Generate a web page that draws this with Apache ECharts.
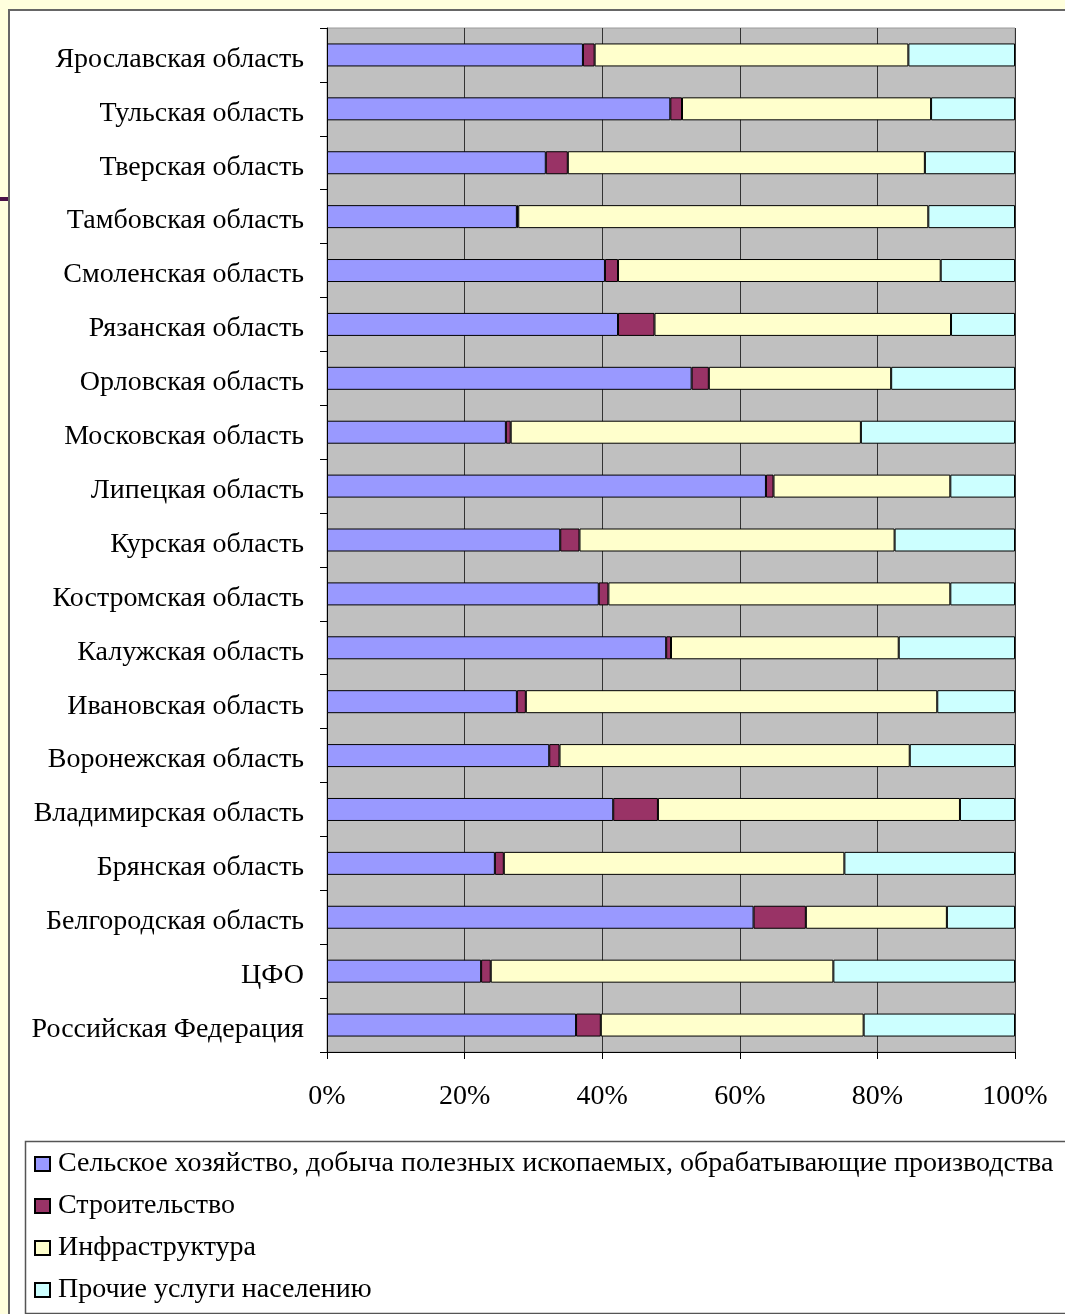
<!DOCTYPE html>
<html>
<head>
<meta charset="utf-8">
<script src="https://cdn.jsdelivr.net/npm/echarts@6/dist/echarts.min.js"></script>
<style>
  html, body { margin: 0; padding: 0; background: #ffffdd; }
  #panel { position: absolute; left: 8px; top: 9px; width: 1100px; height: 1400px; background: #ffffff; border-left: 2px solid #666; border-top: 2px solid #666; }
  #decor { position: absolute; left: 0; top: 197px; width: 8px; height: 4px; background: #4b1248; }
  #chart { position: absolute; left: 0; top: 0; width: 1065px; height: 1314px; }
</style>
</head>
<body>
<div id="panel"></div>
<div id="decor"></div>
<div id="chart"></div>
<script>
const categories = [
  'Ярославская область', 'Тульская область', 'Тверская область', 'Тамбовская область',
  'Смоленская область', 'Рязанская область', 'Орловская область', 'Московская область',
  'Липецкая область', 'Курская область', 'Костромская область', 'Калужская область',
  'Ивановская область', 'Воронежская область', 'Владимирская область', 'Брянская область',
  'Белгородская область', 'ЦФО', 'Российская Федерация'
];
const seriesNames = [
  'Сельское хозяйство, добыча полезных ископаемых, обрабатывающие производства',
  'Строительство',
  'Инфраструктура',
  'Прочие услуги населению'
];
const agriIndustry = [37.2, 49.9, 31.8, 27.6, 40.4, 42.3, 53.0, 26.0, 63.8, 33.9, 39.5, 49.3, 27.6, 32.3, 41.6, 24.4, 62.0, 22.4, 36.2];
const construction = [1.7, 1.7, 3.2, 0.2, 1.9, 5.3, 2.5, 0.7, 1.1, 2.8, 1.4, 0.7, 1.3, 1.5, 6.5, 1.3, 7.6, 1.4, 3.6];
const infrastructure = [45.6, 36.2, 51.9, 59.6, 46.9, 43.1, 26.5, 50.9, 25.7, 45.8, 49.7, 33.1, 59.8, 50.9, 43.9, 49.5, 20.5, 49.8, 38.2];
const otherServices = [15.5, 12.2, 13.1, 12.6, 10.8, 9.3, 18.0, 22.4, 9.4, 17.5, 9.4, 16.9, 11.3, 15.3, 8.0, 24.8, 9.9, 26.4, 22.0];
const xTicks = [0, 20, 40, 60, 80, 100];

const colors = ['#9999ff', '#993366', '#ffffcc', '#ccffff'];
const seriesData = [agriIndustry, construction, infrastructure, otherServices];
const font = '"Liberation Serif", "Times New Roman", serif';

const chart = echarts.init(document.getElementById('chart'), null, { renderer: 'canvas' });
chart.setOption({
  backgroundColor: 'transparent',
  animation: false,
  color: colors,
  grid: {
    left: 327, right: 50, top: 28, bottom: 262,
    show: true, backgroundColor: '#c0c0c0', borderColor: '#9a9a9a', borderWidth: 1
  },
  xAxis: {
    type: 'value', min: xTicks[0], max: xTicks[xTicks.length - 1], interval: 20,
    axisLine: { show: true, lineStyle: { color: '#000', width: 1 } },
    axisTick: { show: true, length: 7, lineStyle: { color: '#000' } },
    splitLine: { show: true, lineStyle: { color: '#333', width: 1 } },
    axisLabel: { formatter: '{value}%', fontSize: 28, color: '#000', fontFamily: font, margin: 31 }
  },
  yAxis: {
    type: 'category', inverse: true, data: categories,
    axisLine: { show: true, lineStyle: { color: '#000', width: 1 } },
    axisTick: { show: true, length: 7, lineStyle: { color: '#000' } },
    axisLabel: {
      color: '#000', margin: 23,
      formatter: v => '{c|' + v + '}',
      rich: { c: { fontSize: 28, color: '#000', fontFamily: font, lineHeight: 30, padding: [9, 0, 0, 0] } }
    }
  },
  legend: {
    orient: 'vertical', left: 34, top: 1150, padding: 0,
    itemWidth: 15, itemHeight: 14, itemGap: 14,
    icon: 'rect',
    textStyle: { fontSize: 28, color: '#000', fontFamily: font, lineHeight: 28, padding: [0, 0, 0, 3] },
    data: seriesNames
  },
  graphic: [{
    type: 'rect', left: 23, top: 1139,
    shape: { width: 1041, height: 172 },
    style: { fill: 'none', stroke: '#555', lineWidth: 1.5 }
  }],
  series: seriesNames.map((name, i) => ({
    name: name, type: 'bar', stack: 'total', barWidth: 23,
    data: seriesData[i],
    itemStyle: { color: colors[i], borderColor: '#000', borderWidth: 1 }
  }))
});
</script>
</body>
</html>
